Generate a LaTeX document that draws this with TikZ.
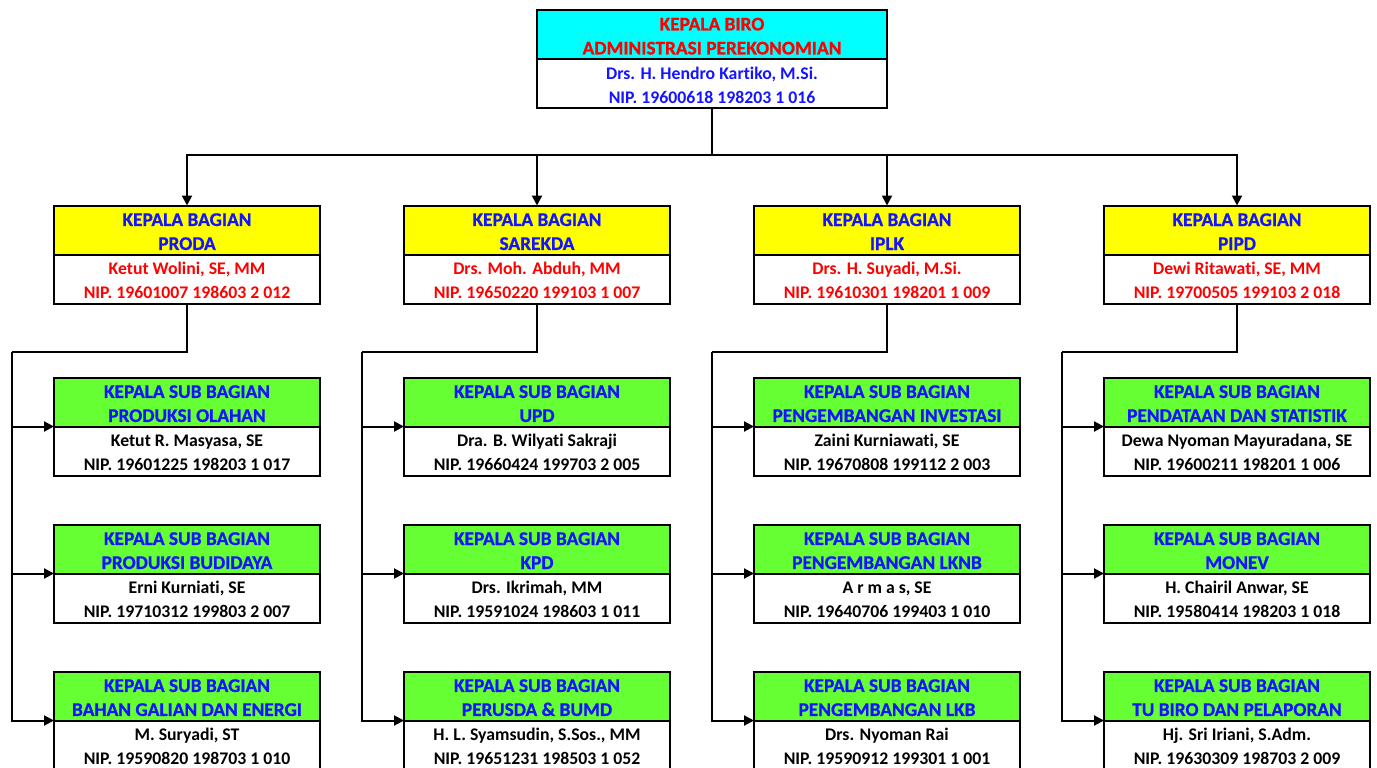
\documentclass[tikz,border=0pt]{standalone}
\usepackage{fontspec}
\setmainfont[Ligatures=NoCommon]{Carlito}
\newfontfamily\headfont[Ligatures=NoCommon, UprightFont={* Bold}, FakeBold=0.8]{Carlito}
\usepackage{tikz}
\usetikzlibrary{shapes,arrows.meta,positioning,calc}
\definecolor{birocyan}{RGB}{0,255,255}
\definecolor{bagyellow}{RGB}{255,255,0}
\definecolor{subgreen}{RGB}{102,255,51}
\definecolor{orgblue}{RGB}{20,20,255}
\definecolor{orgred}{RGB}{255,0,0}

\begin{document}
\begin{tikzpicture}[x=0.75pt, y=-0.75pt,
    headbox/.style={draw, line width=1.5pt, outer sep=0pt, inner sep=0pt, minimum width=199.5pt, minimum height=36.75pt, text height=30pt, align=center, font=\fontsize{14.5}{18}\headfont},
    namebox/.style={draw, line width=1.5pt, outer sep=0pt, inner sep=0pt, fill=white, minimum width=199.5pt, minimum height=36.75pt, text height=30pt, align=center, font=\fontsize{13.3}{18}\selectfont\bfseries},
    link/.style={line width=1.5pt},
    arr/.style={line width=1.5pt, -{Triangle[length=7.5pt, width=7.5pt]}}
]
    \useasboundingbox (0,0) rectangle (1377,767);
    \clip (0,0) rectangle (1377,767);

    % Kepala Biro
    \node[headbox, fill=birocyan, text=orgred, minimum width=262.5pt] (birohead) at (712,34.5) {KEPALA BIRO\\ADMINISTRASI PEREKONOMIAN};
    \node[namebox, text=orgblue, minimum width=262.5pt, below=0pt of birohead] (birobody) {Drs. H. Hendro Kartiko, M.Si.\\NIP. 19600618 198203 1 016};

    % Kepala Bagian
    \node[headbox, fill=bagyellow, text=orgblue] (prodahead) at (187,230) {KEPALA BAGIAN\\PRODA};
    \node[namebox, text=orgred, below=0pt of prodahead] (prodabody) {Ketut Wolini, SE, MM\\NIP. 19601007 198603 2 012};

    \node[headbox, fill=bagyellow, text=orgblue] (sarekdahead) at (537,230) {KEPALA BAGIAN\\SAREKDA};
    \node[namebox, text=orgred, below=0pt of sarekdahead] (sarekdabody) {Drs. Moh. Abduh, MM\\NIP. 19650220 199103 1 007};

    \node[headbox, fill=bagyellow, text=orgblue] (iplkhead) at (887,230) {KEPALA BAGIAN\\IPLK};
    \node[namebox, text=orgred, below=0pt of iplkhead] (iplkbody) {Drs. H. Suyadi, M.Si.\\NIP. 19610301 198201 1 009};

    \node[headbox, fill=bagyellow, text=orgblue] (pipdhead) at (1237,230) {KEPALA BAGIAN\\PIPD};
    \node[namebox, text=orgred, below=0pt of pipdhead] (pipdbody) {Dewi Ritawati, SE, MM\\NIP. 19700505 199103 2 018};

    % Sub Bagian PRODA
    \node[headbox, fill=subgreen, text=orgblue, below=55.5pt of prodabody] (olahanhead) {KEPALA SUB BAGIAN\\PRODUKSI OLAHAN};
    \node[namebox, below=0pt of olahanhead] (olahanbody) {Ketut R. Masyasa, SE\\NIP. 19601225 198203 1 017};
    \node[headbox, fill=subgreen, text=orgblue, below=36.75pt of olahanbody] (budidayahead) {KEPALA SUB BAGIAN\\PRODUKSI BUDIDAYA};
    \node[namebox, below=0pt of budidayahead] (budidayabody) {Erni Kurniati, SE\\NIP. 19710312 199803 2 007};
    \node[headbox, fill=subgreen, text=orgblue, below=36.75pt of budidayabody] (galianhead) {KEPALA SUB BAGIAN\\BAHAN GALIAN DAN ENERGI};
    \node[namebox, below=0pt of galianhead] (galianbody) {M. Suryadi, ST\\NIP. 19590820 198703 1 010};

    % Sub Bagian SAREKDA
    \node[headbox, fill=subgreen, text=orgblue, below=55.5pt of sarekdabody] (updhead) {KEPALA SUB BAGIAN\\UPD};
    \node[namebox, below=0pt of updhead] (updbody) {Dra. B. Wilyati Sakraji\\NIP. 19660424 199703 2 005};
    \node[headbox, fill=subgreen, text=orgblue, below=36.75pt of updbody] (kpdhead) {KEPALA SUB BAGIAN\\KPD};
    \node[namebox, below=0pt of kpdhead] (kpdbody) {Drs. Ikrimah, MM\\NIP. 19591024 198603 1 011};
    \node[headbox, fill=subgreen, text=orgblue, below=36.75pt of kpdbody] (perusdahead) {KEPALA SUB BAGIAN\\PERUSDA \& BUMD};
    \node[namebox, below=0pt of perusdahead] (perusdabody) {H. L. Syamsudin, S.Sos., MM\\NIP. 19651231 198503 1 052};

    % Sub Bagian IPLK
    \node[headbox, fill=subgreen, text=orgblue, below=55.5pt of iplkbody] (investasihead) {KEPALA SUB BAGIAN\\PENGEMBANGAN INVESTASI};
    \node[namebox, below=0pt of investasihead] (investasibody) {Zaini Kurniawati, SE\\NIP. 19670808 199112 2 003};
    \node[headbox, fill=subgreen, text=orgblue, below=36.75pt of investasibody] (lknbhead) {KEPALA SUB BAGIAN\\PENGEMBANGAN LKNB};
    \node[namebox, below=0pt of lknbhead] (lknbbody) {A r m a s, SE\\NIP. 19640706 199403 1 010};
    \node[headbox, fill=subgreen, text=orgblue, below=36.75pt of lknbbody] (lkbhead) {KEPALA SUB BAGIAN\\PENGEMBANGAN LKB};
    \node[namebox, below=0pt of lkbhead] (lkbbody) {Drs. Nyoman Rai\\NIP. 19590912 199301 1 001};

    % Sub Bagian PIPD
    \node[headbox, fill=subgreen, text=orgblue, below=55.5pt of pipdbody] (statistikhead) {KEPALA SUB BAGIAN\\PENDATAAN DAN STATISTIK};
    \node[namebox, below=0pt of statistikhead] (statistikbody) {Dewa Nyoman Mayuradana, SE\\NIP. 19600211 198201 1 006};
    \node[headbox, fill=subgreen, text=orgblue, below=36.75pt of statistikbody] (monevhead) {KEPALA SUB BAGIAN\\MONEV};
    \node[namebox, below=0pt of monevhead] (monevbody) {H. Chairil Anwar, SE\\NIP. 19580414 198203 1 018};
    \node[headbox, fill=subgreen, text=orgblue, below=36.75pt of monevbody] (tubirohead) {KEPALA SUB BAGIAN\\TU BIRO DAN PELAPORAN};
    \node[namebox, below=0pt of tubirohead] (tubirobody) {Hj. Sri Iriani, S.Adm.\\NIP. 19630309 198703 2 009};

    % Biro ke Bagian
    \coordinate (hub) at (712,155);
    \draw[link] (birobody) -- (hub);
    \draw[arr] (hub) -| (prodahead);
    \draw[arr] (hub) -| (sarekdahead);
    \draw[arr] (hub) -| (iplkhead);
    \draw[arr] (hub) -| (pipdhead);

    % Bagian ke Sub Bagian
    \coordinate (prodaspine) at (12,352);
    \draw[link] (prodabody) |- (prodaspine);
    \draw[arr] (prodaspine) |- (olahanhead.south west);
    \draw[arr] (prodaspine) |- (budidayahead.south west);
    \draw[arr] (prodaspine) |- (galianhead.south west);

    \coordinate (sarekdaspine) at (362,352);
    \draw[link] (sarekdabody) |- (sarekdaspine);
    \draw[arr] (sarekdaspine) |- (updhead.south west);
    \draw[arr] (sarekdaspine) |- (kpdhead.south west);
    \draw[arr] (sarekdaspine) |- (perusdahead.south west);

    \coordinate (iplkspine) at (712,352);
    \draw[link] (iplkbody) |- (iplkspine);
    \draw[arr] (iplkspine) |- (investasihead.south west);
    \draw[arr] (iplkspine) |- (lknbhead.south west);
    \draw[arr] (iplkspine) |- (lkbhead.south west);

    \coordinate (pipdspine) at (1062,352);
    \draw[link] (pipdbody) |- (pipdspine);
    \draw[arr] (pipdspine) |- (statistikhead.south west);
    \draw[arr] (pipdspine) |- (monevhead.south west);
    \draw[arr] (pipdspine) |- (tubirohead.south west);
\end{tikzpicture}
\end{document}
